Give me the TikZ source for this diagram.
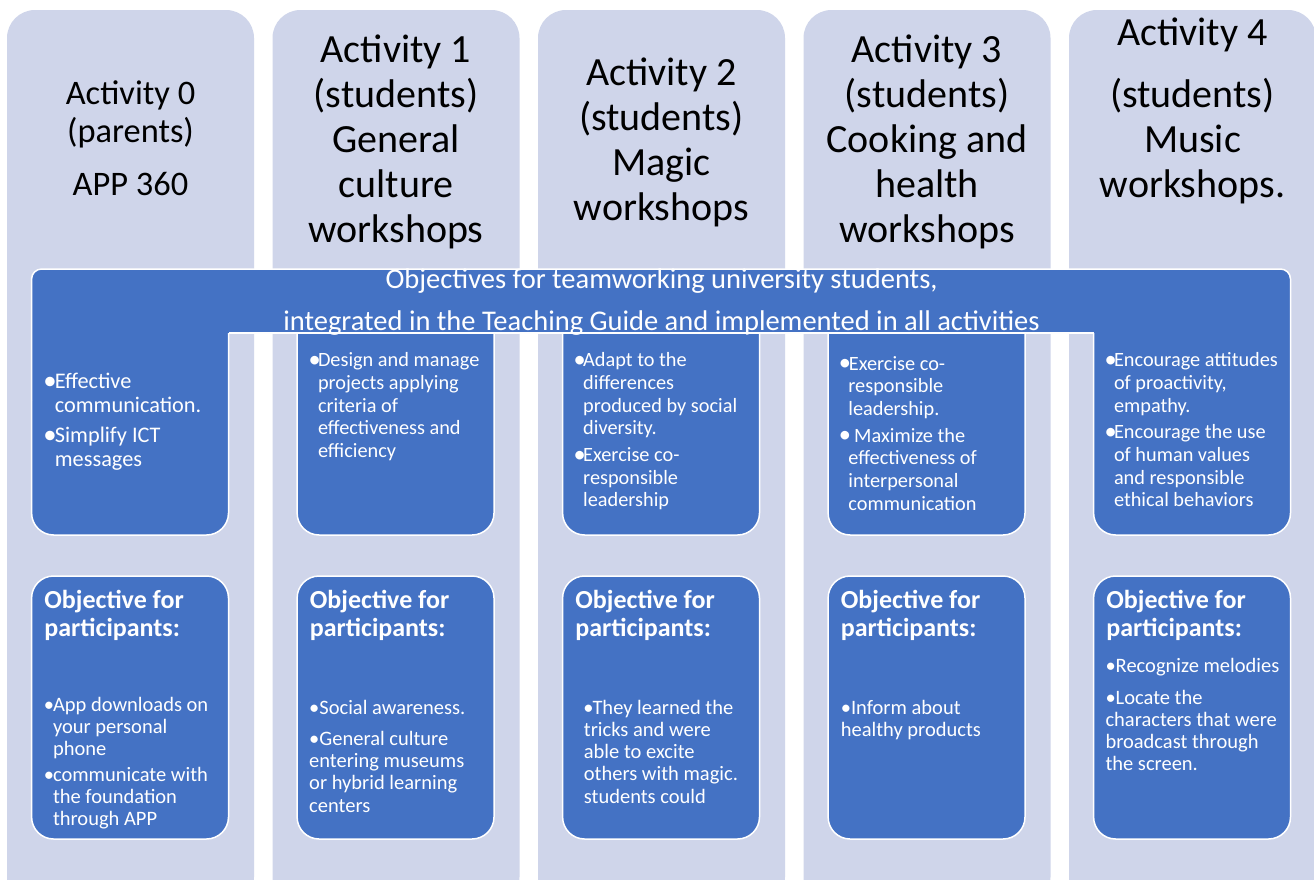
\documentclass[tikz,border=0pt]{standalone}
\usepackage{fontspec}
\setmainfont{Carlito}
\definecolor{colbg}{HTML}{CFD5EA}
\definecolor{boxblue}{HTML}{4472C4}
\newcommand\bulx[1]{\makebox[#1pt][l]{\hspace*{-1pt}\raisebox{-0.04em}{\scalebox{1.2}{•}}}}
\newcommand\pbulx[1]{\makebox[#1pt][l]{\hspace*{-0.5pt}•}}
\newcommand\sbulx{•}
\newcommand\indx[1]{\hspace*{#1pt}}
\newcommand\hdrbox[1]{\begin{minipage}[t]{245pt}\centering\fontsize{40}{45}\selectfont #1\end{minipage}}
\newcommand\lbox[3]{\begin{minipage}[t]{195pt}\raggedright\fontsize{#1}{#2}\selectfont #3\end{minipage}}
\begin{document}
\begin{tikzpicture}[x=1pt,y=-1pt,
  colshape/.style={fill=colbg, rounded corners=28pt},
  bbox/.style={fill=boxblue, draw=white, line width=1.5pt, rounded corners=22pt},
  wline/.style={draw=white, line width=1.5pt},
  hdr/.style={anchor=base, inner sep=0pt, text=black},
  wtxt/.style={anchor=base west, inner sep=0pt, text=white},
  btxt/.style={anchor=base, inner sep=0pt, text=white}]
\useasboundingbox (0,0) rectangle (1314,879);
\clip (0,0) rectangle (1314,879);
\fill[white] (0,0) rectangle (1314,879);
% columns
\foreach \i in {0,...,4}{
  \path[colshape] ({7+265.5*\i},10) rectangle ({254+265.5*\i},905);
}
% middle boxes 1-3
\foreach \i in {1,2,3}{
  \path[bbox] ({31.6+265.5*\i},300) rectangle ({228.5+265.5*\i},535);
}
% banner with legs
\fill[boxblue, rounded corners=10pt] (31.6,269) rectangle (1290.5,333);
\fill[boxblue, rounded corners=22pt] (31.6,290) rectangle (228.5,535);
\fill[boxblue, rounded corners=22pt] (1093.6,290) rectangle (1290.5,535);
\draw[wline, rounded corners=22pt] (228.5,333) -- (228.5,535) -- (31.6,535) -- (31.6,400);
\draw[wline, rounded corners=10pt] (31.6,400) -- (31.6,269) -- (1290.5,269) -- (1290.5,400);
\draw[wline, rounded corners=22pt] (1290.5,400) -- (1290.5,535) -- (1093.6,535) -- (1093.6,333);
\draw[wline] (1093.6,333) -- (228.5,333);
% bottom boxes
\foreach \i in {0,...,4}{
  \path[bbox] ({31.6+265.5*\i},576) rectangle ({228.5+265.5*\i},839);
}
% headers
\node[hdr] (h0) at (130.5,104) {\begin{minipage}[t]{245pt}\centering\fontsize{34.4}{38}\selectfont Activity 0\\(parents)\\[15pt]APP 360\end{minipage}};
\node[hdr] (h1) at (396,62) {\hdrbox{Activity 1\\(students)\\General\\culture\\workshops}};
\node[hdr] (h2) at (661.5,85) {\hdrbox{Activity 2\\(students)\\Magic\\workshops}};
\node[hdr] (h3) at (927,62) {\hdrbox{Activity 3\\(students)\\Cooking and\\health\\workshops}};
\node[hdr] (h4) at (1192.5,45) {\hdrbox{Activity 4\\[17pt](students)\\Music\\workshops.}};
% banner text
\node[btxt] (ban) at (661.5,288) {\begin{minipage}[t]{1000pt}\centering\fontsize{28.5}{42}\selectfont Objectives for teamworking university students,\\integrated in the Teaching Guide and implemented in all activities\end{minipage}};
% middle texts
\node[wtxt] (m0) at (44.2,388.3) {\lbox{22.3}{24}{\bulx{10.5}Effective\\\indx{10.5}communication.\\[6pt]\bulx{10.5}Simplify ICT\\\indx{10.5}messages}};
\node[wtxt] (m1) at (309.3,366.7) {\lbox{20.3}{22.7}{\bulx{8.5}Design and manage\\\indx{8.5}projects applying\\\indx{8.5}criteria of\\\indx{8.5}effectiveness and\\\indx{8.5}efficiency}};
\node[wtxt] (m2) at (574.5,366.7) {\lbox{20.3}{22.7}{\bulx{8.5}Adapt to the\\\indx{8.5}differences\\\indx{8.5}produced by social\\\indx{8.5}diversity.\\[4pt]\bulx{8.5}Exercise co-\\\indx{8.5}responsible\\\indx{8.5}leadership}};
\node[wtxt] (m3) at (839.7,370) {\lbox{20.3}{22.7}{\bulx{9}Exercise co-\\\indx{8.5}responsible\\\indx{8.5}leadership.\\[4pt]\bulx{14.3}Maximize the\\\indx{8.5}effectiveness of\\\indx{8.5}interpersonal\\\indx{8.5}communication}};
\node[wtxt] (m4) at (1105.3,366.7) {\lbox{20.3}{22.7}{\bulx{8.5}Encourage attitudes\\\indx{8.5}of proactivity,\\\indx{8.5}empathy.\\[4pt]\bulx{8.5}Encourage the use\\\indx{8.5}of human values\\\indx{8.5}and responsible\\\indx{8.5}ethical behaviors}};
% bottom headlines
\foreach \i/\nm in {0/o0,1/o1,2/o2,3/o3,4/o4}{
  \node[wtxt] (\nm) at ({44.2+265.5*\i},608.3) {\lbox{26}{28.4}{\bfseries Objective for\\participants:}};
}
% bottom texts
\node[wtxt] (b0) at (44.2,711.7) {\lbox{20.5}{21.7}{\pbulx{8.6}App downloads on\\\indx{8.6}your personal\\\indx{8.6}phone\\[5pt]\pbulx{8.6}communicate with\\\indx{8.6}the foundation\\\indx{8.6}through APP}};
\node[wtxt] (b1) at (309,714) {\lbox{20.5}{22.3}{\sbulx Social awareness.\\[9pt]\sbulx General culture\\entering museums\\or hybrid learning\\centers}};
\node[wtxt] (b2) at (583.7,714) {\lbox{20.5}{22.3}{\pbulx{8.6}They learned the\\tricks and were\\able to excite\\others with magic.\\students could}};
\node[wtxt] (b3) at (840.6,714) {\lbox{20.5}{22.3}{\sbulx Inform about\\healthy products}};
\node[wtxt] (b4) at (1105.3,672.7) {\lbox{20.5}{22.3}{\sbulx Recognize melodies\\[9pt]\sbulx Locate the\\characters that were\\broadcast through\\the screen.}};
\end{tikzpicture}
\end{document}
